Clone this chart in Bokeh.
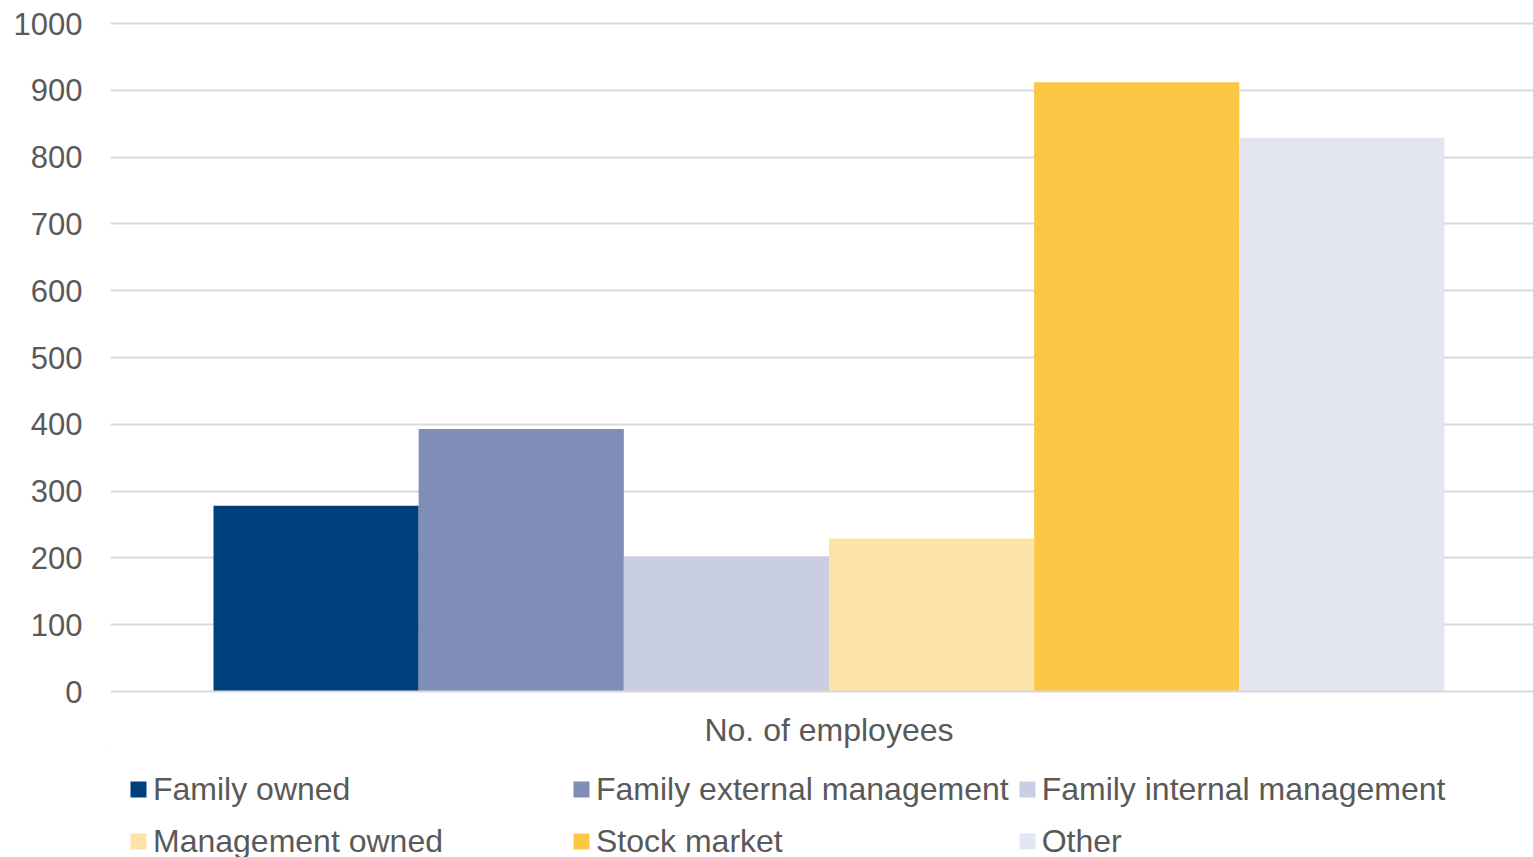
from bokeh.plotting import figure
from bokeh.layouts import column
from bokeh.models import ColumnDataSource, Range1d, FixedTicker, Legend, LegendItem
from bokeh.embed import file_html
from bokeh.resources import INLINE

category = "No. of employees"
series = ["Family owned", "Family external management", "Family internal management",
          "Management owned", "Stock market", "Other"]
values = [278, 393, 202, 229, 912, 829]
colors = ["#003f7d", "#7f8db7", "#c9cee2", "#fde3a7", "#fcc744", "#e3e6f0"]
y_ticks = list(range(0, 1001, 100))

n = len(series)
xs = [i - (n - 1) / 2 for i in range(n)]
src = ColumnDataSource(dict(x=xs, top=values, color=colors, name=series))

FONT = "Liberation Sans"
TXT = "#595959"
GRID = "#d9d9d9"

p = figure(width=1533, height=751, output_backend="svg", toolbar_location=None,
           x_range=Range1d(-3.502, 3.434), y_range=Range1d(0, 1004.5),
           min_border_left=110, min_border_right=0, min_border_top=20, min_border_bottom=60)
p.outline_line_color = None
p.background_fill_color = "white"

r = p.vbar(x="x", top="top", bottom=0, width=1.0, fill_color="color", line_color=None, source=src)

p.yaxis.ticker = FixedTicker(ticks=y_ticks)
p.yaxis.axis_line_color = None
p.yaxis.major_tick_line_color = None
p.yaxis.minor_tick_line_color = None
p.yaxis.major_label_text_font = FONT
p.yaxis.major_label_text_font_size = "31px"
p.yaxis.major_label_text_color = TXT
p.yaxis.major_label_standoff = 22

p.xaxis.ticker = FixedTicker(ticks=[0])
p.xaxis.major_label_overrides = {0: category}
p.xaxis.axis_line_color = GRID
p.xaxis.axis_line_width = 2
p.xaxis.major_tick_line_color = None
p.xaxis.minor_tick_line_color = None
p.xaxis.major_label_text_font = FONT
p.xaxis.major_label_text_font_size = "32px"
p.xaxis.major_label_text_color = TXT
p.xaxis.major_label_standoff = 14

p.xgrid.grid_line_color = None
p.ygrid.ticker = FixedTicker(ticks=y_ticks)
p.ygrid.grid_line_color = GRID
p.ygrid.grid_line_width = 2

# legend strip below the chart (its own renderer lies outside its visible ranges)
lg = figure(width=1533, height=106, output_backend="svg", toolbar_location=None,
            x_range=Range1d(100, 101), y_range=Range1d(-2, -1),
            x_axis_location=None, y_axis_location=None,
            min_border_left=0, min_border_right=0, min_border_top=0, min_border_bottom=0)
lg.grid.visible = False
lg.outline_line_color = None
lr = lg.vbar(x="x", top="top", bottom=0, width=1.0, fill_color="color", line_color=None, source=src)

items = [LegendItem(label=s, renderers=[lr], index=i) for i, s in enumerate(series)]
legend = Legend(items=items, ncols=3, orientation="horizontal",
                location=(18, -6), padding=0, margin=0, spacing=8,
                glyph_width=20, glyph_height=20, label_standoff=5,
                label_width=410, label_height=44,
                label_text_font=FONT, label_text_font_size="32px", label_text_color=TXT,
                border_line_color=None, background_fill_alpha=0)
lg.add_layout(legend, "center")

layout = column(p, lg, spacing=0)
open("out.html", "w").write(file_html(layout, INLINE))
